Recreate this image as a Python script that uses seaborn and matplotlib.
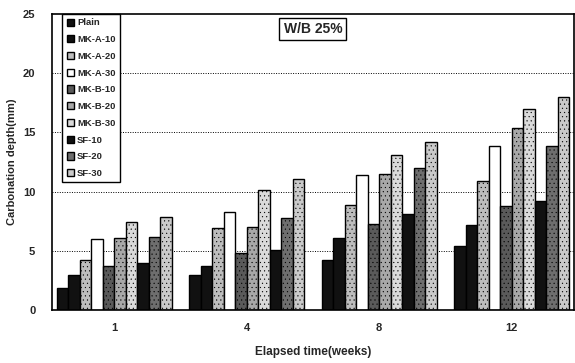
import matplotlib
matplotlib.use("Agg")
import matplotlib.pyplot as plt
import seaborn as sns
import pandas as pd

weeks = ["1", "4", "8", "12"]
mixes = ["Plain", "MK-A-10", "MK-A-20", "MK-A-30", "MK-B-10", "MK-B-20",
         "MK-B-30", "SF-10", "SF-20", "SF-30"]
plain = [1.9, 3.0, 4.2, 5.4]
mk_a_10 = [2.95, 3.75, 6.05, 7.15]
mk_a_20 = [4.2, 6.9, 8.9, 10.9]
mk_a_30 = [6.0, 8.3, 11.4, 13.9]
mk_b_10 = [3.7, 4.8, 7.3, 8.8]
mk_b_20 = [6.1, 7.05, 11.5, 15.4]
mk_b_30 = [7.4, 10.1, 13.1, 17.0]
sf_10 = [4.0, 5.1, 8.15, 9.2]
sf_20 = [6.15, 7.75, 12.0, 13.85]
sf_30 = [7.9, 11.1, 14.2, 18.0]
series = [plain, mk_a_10, mk_a_20, mk_a_30, mk_b_10, mk_b_20, mk_b_30,
          sf_10, sf_20, sf_30]

rows = []
for m, vals in zip(mixes, series):
    for w, v in zip(weeks, vals):
        rows.append({"week": w, "mix": m, "depth": v})
df = pd.DataFrame(rows)

colors = ["#111111", "#111111", "#bdbdbd", "#ffffff", "#5a5a5a", "#a8a8a8",
          "#dadada", "#111111", "#6e6e6e", "#cacaca"]
hatches = ["", "", "....", "", "....", "....", "....", "", "....", "...."]

sns.set_style("white")
plt.rcParams["font.family"] = ["Liberation Sans", "DejaVu Sans"]
plt.rcParams["font.weight"] = "bold"
plt.rcParams["hatch.linewidth"] = 0.3

fig = plt.figure(figsize=(5.75, 3.63), dpi=100)
ax = fig.add_axes([0.0904, 0.146, 0.9076, 0.815])

sns.barplot(data=df, x="week", y="depth", hue="mix", order=weeks,
            hue_order=mixes, palette=colors, width=0.87, gap=0,
            edgecolor="black", linewidth=1.0, saturation=1, ax=ax,
            errorbar=None)

for i, cont in enumerate(ax.containers):
    for p in cont:
        p.set_hatch(hatches[i])

ax.set_ylim(0, 25)
ax.set_xlim(-0.47, 3.47)
ax.set_yticks([0, 5, 10, 15, 20, 25])
ax.set_yticklabels(["0", "5", "10", "15", "20", "25"], fontsize=8, fontweight="bold")
ax.set_xticklabels(weeks, fontsize=8, fontweight="bold")
for y in [5, 10, 15, 20]:
    ax.axhline(y, color="black", linestyle=(0, (1, 1.5)), linewidth=0.7, zorder=0)
ax.tick_params(axis="y", direction="in", length=3, width=0.8, pad=12)
ax.tick_params(axis="x", length=0, pad=9)
ax.set_xticks([0.5, 1.5, 2.5], minor=True)
ax.tick_params(axis="x", which="minor", direction="in", length=3, width=0.8)
for s in ax.spines.values():
    s.set_visible(True)
    s.set_color("black")
    s.set_linewidth(1.2)

ax.set_ylabel("Carbonation depth(mm)", fontsize=8, fontweight="bold", labelpad=4)
ax.set_xlabel("Elapsed time(weeks)", fontsize=8.5, fontweight="bold", labelpad=10)

handles, labels = ax.get_legend_handles_labels()
ax.legend(handles, labels, loc="upper left", bbox_to_anchor=(0.02, 1.0),
          frameon=True, fancybox=False, edgecolor="black", framealpha=1,
          prop={"weight": "bold", "size": 6.8},
          handlelength=0.8, handleheight=0.8, handletextpad=0.3,
          labelspacing=0.82, borderpad=0.45, borderaxespad=0.0)
ax.get_legend().get_frame().set_linewidth(1.0)

ax.text(0.5, 0.95, "W/B 25%", transform=ax.transAxes, ha="center", va="center",
        fontsize=10, fontweight="bold",
        bbox=dict(boxstyle="square,pad=0.3", facecolor="white", edgecolor="black",
                  linewidth=1.0))

fig.savefig("out.png", dpi=100)
